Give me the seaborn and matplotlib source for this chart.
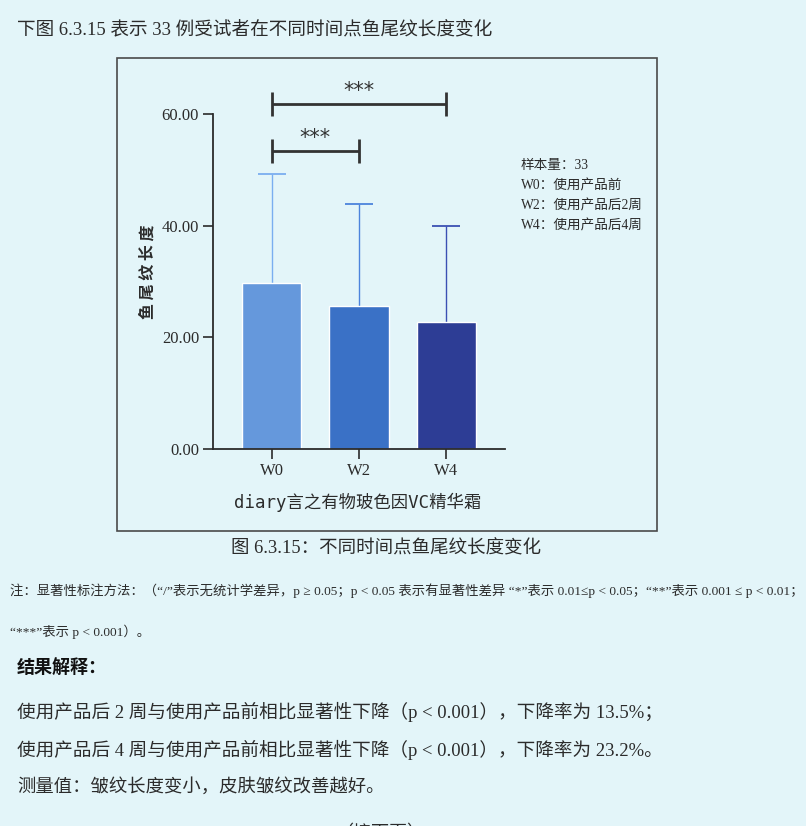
import matplotlib
matplotlib.use("Agg")
import matplotlib.pyplot as plt
from matplotlib.patches import Rectangle
from matplotlib.ticker import FormatStrFormatter
import seaborn as sns
import pandas as pd

# data
times = ["W0", "W2", "W4"]
means = [29.8, 25.7, 22.8]
sds = [19.4, 18.1, 17.2]
n_subjects = 33
pairs = [("W0", "W2", "***"), ("W0", "W4", "***")]
legend_lines = ["样本量：33", "W0：使用产品前", "W2：使用产品后2周", "W4：使用产品后4周"]
product = "diary言之有物玻色因VC精华霜"
ylab = "鱼尾纹长度"

bar_colors = ["#6598dc", "#3a71c6", "#2d3d95"]
err_colors = ["#7aaef0", "#4c84dc", "#3b50b3"]
PAGE = "#e3f5f9"
INK = "#2b2b2b"
W, H = 806, 826


def px(x, y):
    return x / W, 1 - y / H


sns.set_style("ticks")
plt.rcParams["font.family"] = ["Liberation Serif", "Noto Sans CJK SC"]
plt.rcParams["axes.unicode_minus"] = False

fig = plt.figure(figsize=(W / 100, H / 100), dpi=100, facecolor=PAGE)
ax = fig.add_axes([213 / W, 1 - 449 / H, 292 / W, 335 / H])
ax.set_facecolor("none")

df = pd.DataFrame({"time": times, "mean": means, "sd": sds})
sns.barplot(data=df, x="time", y="mean", hue="time", palette=bar_colors,
            width=0.675, dodge=False, legend=False, saturation=1, ax=ax, zorder=2)

# upper error bars only (hide the cap at the bar top)
for i, (m, s) in enumerate(zip(means, sds)):
    _, caps, _ = ax.errorbar(i, m, yerr=[[0], [s]], fmt="none", ecolor=err_colors[i],
                             elinewidth=1.0, capsize=10.4, capthick=1.3, zorder=1)
    caps[0].set_visible(False)

ax.set_xlim(-0.67, 2.67)
ax.set_ylim(0, 60)
ax.set_yticks([0, 20, 40, 60])
ax.yaxis.set_major_formatter(FormatStrFormatter("%.2f"))
sns.despine(ax=ax)
for sp in ["left", "bottom"]:
    ax.spines[sp].set_color(INK)
    ax.spines[sp].set_linewidth(1.3)
ax.tick_params(axis="both", length=7, width=1.2, color=INK, labelsize=12,
               labelcolor=INK, pad=3)

ax.set_ylabel(" ".join(ylab), fontsize=11.5, fontweight="bold", color=INK,
              family=["Noto Sans CJK SC"], va="center")
ax.yaxis.set_label_coords(-0.2226, 0.528)
ax.set_xlabel(product, fontsize=12.5, color=INK,
              family=["DejaVu Sans Mono", "Noto Sans CJK SC"], va="center")
ax.xaxis.set_label_coords(0.4966, -0.158)

# significance brackets
idx = {t: i for i, t in enumerate(times)}
level = max(m + s for m, s in zip(means, sds)) + 4.2
for k, (a, b, lab) in enumerate(pairs):
    y = level + k * 8.4
    x0, x1 = idx[a], idx[b]
    kw = dict(color="#333333", lw=2.0, clip_on=False, solid_capstyle="butt")
    ax.plot([x0, x1], [y, y], **kw)
    ax.plot([x0, x0], [y - 2.2, y + 2.2], **kw)
    ax.plot([x1, x1], [y - 2.2, y + 2.2], **kw)
    ax.text((x0 + x1) / 2, y + 0.6, lab, ha="center", va="bottom", fontsize=15,
            color="#333333", family=["DejaVu Sans"], clip_on=False)

# legend text block
for j, line in enumerate(legend_lines):
    fig.text(*px(521, 166 + 20 * j), line, fontsize=9.8, color=INK, va="center")

# chart frame
fig.add_artist(Rectangle(px(117, 531), 540 / W, 473 / H, transform=fig.transFigure,
                         fill=False, ec="#4a4a4a", lw=1.2))

# page text
fig.text(*px(17, 30), "下图 6.3.15 表示 33 例受试者在不同时间点鱼尾纹长度变化",
         fontsize=13.4, color=INK, va="center")
fig.text(*px(386, 549), "图 6.3.15：不同时间点鱼尾纹长度变化",
         fontsize=13.3, color=INK, va="center", ha="center")
fig.text(*px(10, 591), "注：显著性标注方法：（“/”表示无统计学差异，p ≥ 0.05；p < 0.05 表示有显著性差异 “*”表示 0.01≤p < 0.05；“**”表示 0.001 ≤ p < 0.01；",
         fontsize=9.6, color=INK, va="center")
fig.text(*px(10, 632), "“***”表示 p < 0.001）。", fontsize=9.6, color=INK, va="center")
fig.text(*px(17, 668), "结果解释：", fontsize=13, fontweight="bold", color="#111111",
         va="center", family=["Noto Sans CJK SC"])
fig.text(*px(17, 712), "使用产品后 2 周与使用产品前相比显著性下降（p < 0.001），下降率为 13.5%；",
         fontsize=13.4, color=INK, va="center")
fig.text(*px(17, 750), "使用产品后 4 周与使用产品前相比显著性下降（p < 0.001），下降率为 23.2%。",
         fontsize=13.4, color=INK, va="center")
fig.text(*px(17, 787), "测量值：皱纹长度变小，皮肤皱纹改善越好。",
         fontsize=13.2, color=INK, va="center")
fig.text(*px(380, 834), "（接下页）", fontsize=13, color=INK, va="center", ha="center")

fig.savefig("out.png", dpi=100, facecolor=PAGE)
